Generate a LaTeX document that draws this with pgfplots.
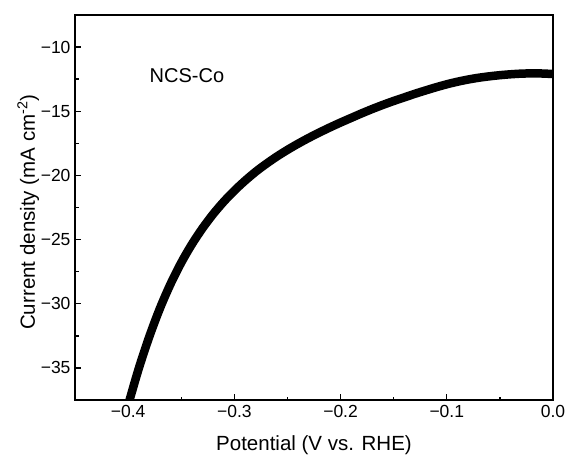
\documentclass[border=0pt]{standalone}
\usepackage{fontspec}
\setmainfont{Liberation Sans}
\usepackage{pgfplots}
\pgfplotsset{compat=1.18}

\begin{document}
\begin{tikzpicture}
\begin{axis}[
    scale only axis,
    width=478pt, height=385pt,
    xmin=-0.45, xmax=0, ymin=-37.5, ymax=-7.5,
    xtick={-0.4,-0.3,-0.2,-0.1,0},
    xticklabels={−0.4,−0.3,−0.2,−0.1,0.0},
    ytick={-35,-30,-25,-20,-15,-10},
    yticklabels={−35,−30,−25,−20,−15,−10},
    minor x tick num=1, minor y tick num=1,
    tick align=inside,
    xtick pos=bottom, ytick pos=left,
    major tick length=6pt, minor tick length=3.5pt,
    every tick/.style={line width=1.4pt, black},
    axis line style={line width=1.4pt},
    tick label style={font=\fontsize{17.5}{19}\selectfont},
    xticklabel style={yshift=-2pt},
    yticklabel style={xshift=-1pt},
    label style={font=\fontsize{20.5}{23}\selectfont},
    xlabel={Potential (V vs. RHE)},
    ylabel={Current density (mA cm\textsuperscript{-2})},
    xlabel style={at={(axis description cs:0.5,-0.1299)}, anchor=base},
    ylabel style={at={(axis description cs:-0.0837,0.488)}, anchor=base},
]
% LSV curve
\addplot[black, line width=8.5pt, line join=round, smooth, tension=0.5] coordinates {
(-0.403,-38.8) (-0.400,-37.90) (-0.390,-35.05) (-0.380,-32.55) (-0.370,-30.35)
(-0.360,-28.45) (-0.350,-26.80) (-0.340,-25.37) (-0.330,-24.12) (-0.320,-23.02)
(-0.310,-22.05) (-0.300,-21.19) (-0.290,-20.42) (-0.280,-19.72) (-0.270,-19.10)
(-0.260,-18.53) (-0.250,-18.01) (-0.240,-17.53) (-0.230,-17.08) (-0.220,-16.66)
(-0.210,-16.26) (-0.200,-15.88) (-0.190,-15.52) (-0.180,-15.16) (-0.170,-14.82)
(-0.160,-14.50) (-0.150,-14.20) (-0.140,-13.92) (-0.130,-13.64) (-0.120,-13.38)
(-0.110,-13.13) (-0.100,-12.90) (-0.090,-12.70) (-0.080,-12.53) (-0.070,-12.39)
(-0.060,-12.28) (-0.050,-12.19) (-0.040,-12.12) (-0.030,-12.07) (-0.020,-12.05)
(-0.010,-12.06) (0.000,-12.10)
};
\node[anchor=west, font=\fontsize{20}{22}\selectfont] at (axis cs:-0.383,-12.2) {NCS-Co};
\end{axis}
\pgfresetboundingbox
\path ([shift={(-75pt,-54pt)}]current axis.south west) rectangle ([shift={(13pt,15pt)}]current axis.north east);
\end{tikzpicture}
\end{document}
